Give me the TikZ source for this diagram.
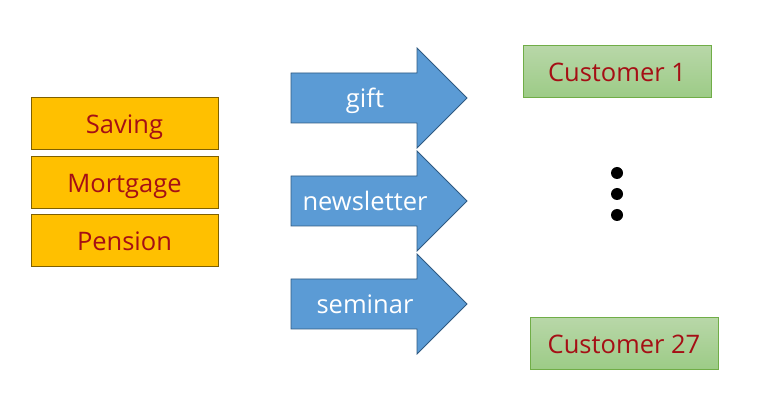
\documentclass[tikz,border=0pt]{standalone}
\usepackage{fontspec}
\setmainfont{Open Sans}
\definecolor{prodfill}{HTML}{FFC000}
\definecolor{prodline}{HTML}{7F6000}
\definecolor{txtred}{HTML}{A50F15}
\definecolor{arrfill}{HTML}{5B9BD5}
\definecolor{arrline}{HTML}{2F5A82}
\definecolor{gtop}{HTML}{B8D7A8}
\definecolor{gbot}{HTML}{9CCB86}
\definecolor{gline}{HTML}{70AD47}
\begin{document}
\begin{tikzpicture}[x=1pt,y=-1pt,
  prodbox/.style={draw=prodline,line width=1pt,fill=prodfill,minimum width=187pt,minimum height=52pt,inner sep=0pt,text=txtred,font=\fontsize{25.5}{28}\selectfont,text height=21pt,text depth=2pt},
  custbox/.style={draw=gline,line width=1pt,top color=gtop,bottom color=gbot,minimum width=188pt,minimum height=52pt,inner sep=0pt,text=txtred,font=\fontsize{25.5}{28}\selectfont,text height=21pt,text depth=2pt},
  bigarrow/.style={draw=arrline,line width=0.8pt,fill=arrfill},
  arrtext/.style={text=white,font=\fontsize{25.5}{28}\selectfont,inner sep=0pt,text height=22pt,text depth=2pt},
  dot/.style={circle,fill=black,minimum size=12pt,inner sep=0pt}]
\useasboundingbox (0,0) rectangle (779,419);
\node[prodbox] (saving) at (124.5,124) {Saving};
\node[prodbox] (mortgage) at (124.5,183) {Mortgage};
\node[prodbox] (pension) at (124.5,241) {Pension};
\foreach \n/\t/\yc in {gift/gift/98, news/newsletter/201, sem/seminar/304}{
  \draw[bigarrow] (291,\yc-25) -- (417,\yc-25) -- (417,\yc-50) -- (467,\yc) -- (417,\yc+50) -- (417,\yc+25) -- (291,\yc+25) -- cycle;
  \node[arrtext] (\n) at (365,\yc) {\t};
}
\node[custbox] (c1) at (617,72) {Customer 1};
\node[custbox] (c27) at (624,344) {Customer 27};
\node[dot] (d1) at (617,173) {};
\node[dot] (d2) at (617,194) {};
\node[dot] (d3) at (617,215) {};
\end{tikzpicture}
\end{document}
